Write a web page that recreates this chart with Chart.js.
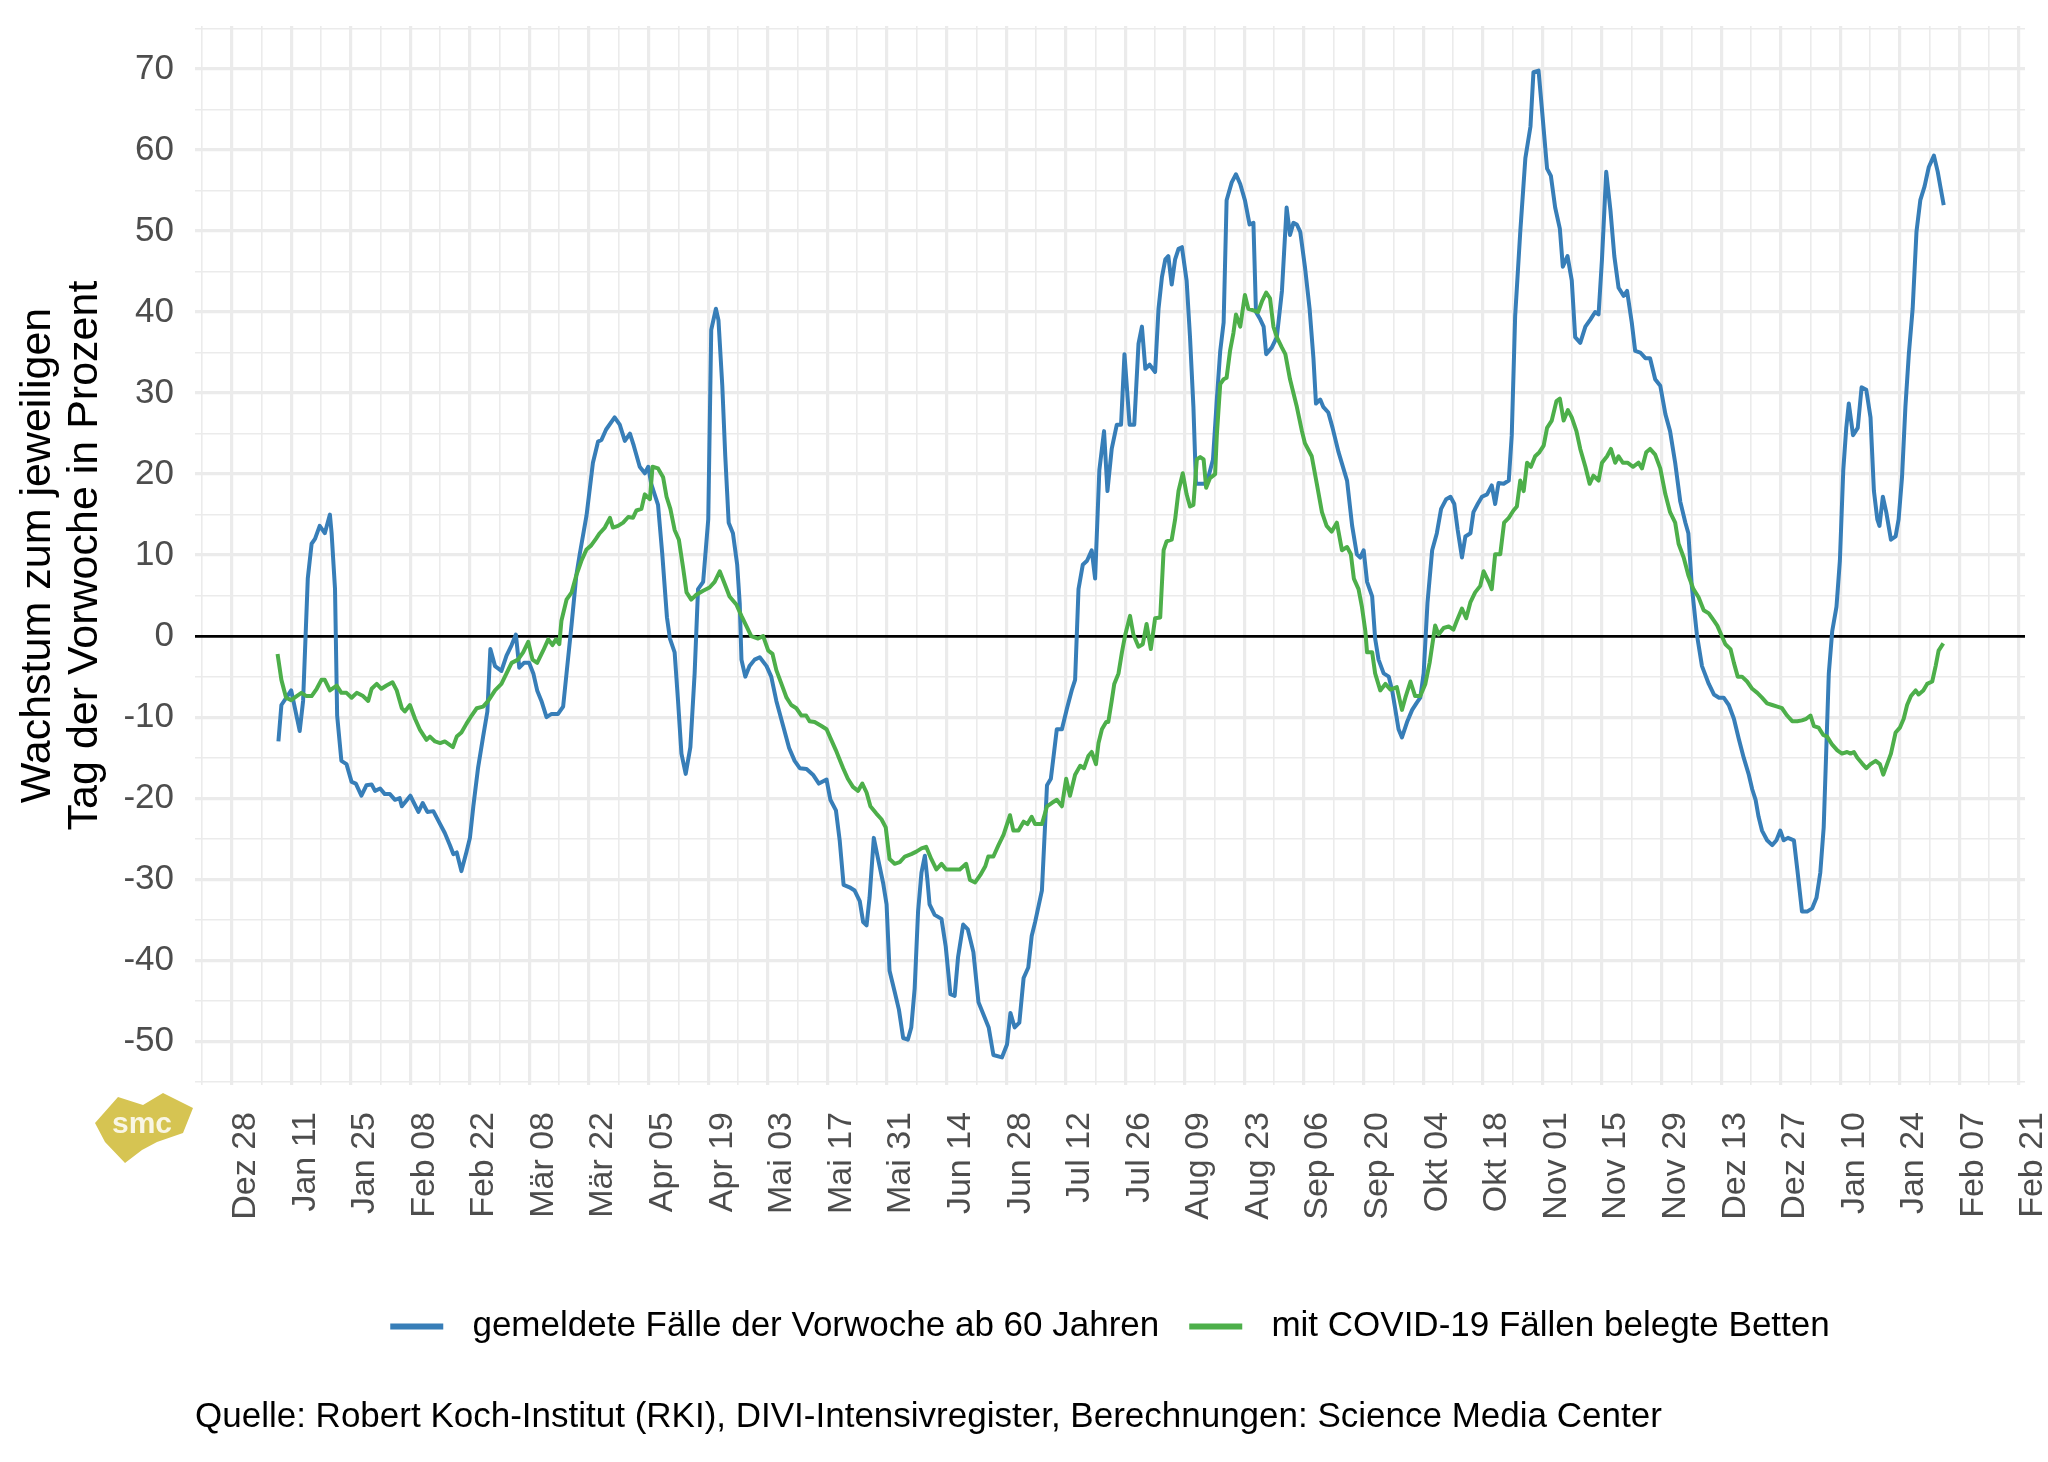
<!DOCTYPE html>
<html>
<head>
<meta charset="utf-8">
<title>Wachstum zum jeweiligen Tag der Vorwoche</title>
<script src="https://cdn.jsdelivr.net/npm/chart.js@4.4.1/dist/chart.umd.min.js"></script>
<style>
  html, body { margin: 0; padding: 0; background: #fff; }
  #wrap { position: relative; width: 2048px; height: 1462px; }
  #logo { position: absolute; left: 80px; top: 1070px; }
</style>
</head>
<body>
<div id="wrap">
  <canvas id="growthChart" width="2048" height="1462"></canvas>
  <svg id="logo" width="140" height="110" viewBox="0 0 140 110">
    <polygon points="15,53 38,27 63,35 83,23 113,38 103,63 77,72 62,80 45,93 25,72" fill="#d6c452"/>
    <text x="62" y="63" text-anchor="middle" font-family="Liberation Sans, Arial, sans-serif" font-weight="bold" font-size="30" fill="#fff" fill-opacity="0.85">smc</text>
  </svg>
</div>
<script>
// days counted from Mon 28 Dec 2020
const startDay = Date.UTC(2020, 11, 28);
const monthNames = ['Jan', 'Feb', 'Mär', 'Apr', 'Mai', 'Jun', 'Jul', 'Aug', 'Sep', 'Okt', 'Nov', 'Dez'];

const seriesNames = ['gemeldete Fälle der Vorwoche ab 60 Jahren', 'mit COVID-19 Fällen belegte Betten'];

// Fälle ab 60 Jahren (blue)
const casesDays = [
  11.0, 11.7, 14.0, 16.0, 16.8, 17.9, 18.8, 19.6, 20.7, 21.9,
  23.1, 23.5, 24.3, 24.8, 25.8, 27.0, 28.2, 29.2, 30.5, 31.7,
  32.9, 33.7, 34.9, 36.0, 37.2, 38.4, 39.5, 40.0, 42.0, 43.9,
  44.9, 46.0, 47.4, 48.6, 50.1, 51.3, 52.1, 52.9, 54.0, 55.2,
  56.0, 56.8, 57.9, 59.1, 60.1, 60.8, 61.9, 63.4, 64.6, 65.8,
  66.8, 67.6, 68.7, 69.9, 70.9, 71.8, 72.8, 74.0, 75.2, 76.7,
  77.9, 78.7, 79.9, 81.0, 81.8, 83.4, 84.9, 86.1, 86.9, 88.0,
  90.0, 91.2, 92.4, 93.6, 94.5, 95.9, 97.1, 97.9, 98.6, 100.2,
  101.2, 102.3, 103.0, 104.1, 104.9, 105.7, 106.7, 107.8, 108.8, 109.6,
  110.8, 112.0, 112.7, 113.8, 114.4, 115.3, 116.0, 116.8, 117.8, 118.8,
  119.4, 119.8, 120.7, 121.7, 122.9, 124.1, 125.7, 126.8, 128.0, 129.6,
  131.0, 132.3, 133.5, 135.1, 136.6, 138.0, 139.8, 140.7, 142.0, 142.9,
  143.8, 145.2, 146.4, 147.6, 148.4, 149.2, 149.9, 150.9, 151.9, 153.1,
  153.9, 154.6, 155.8, 156.8, 157.8, 158.9, 159.7, 160.5, 161.3, 162.1,
  162.9, 163.5, 164.0, 165.2, 166.8, 167.8, 168.9, 169.9, 170.7, 171.9,
  173.0, 174.3, 175.5, 177.9, 179.0, 181.0, 182.2, 183.0, 184.0, 185.1,
  186.1, 187.2, 188.0, 188.8, 190.4, 191.6, 192.5, 193.1, 193.9, 195.1,
  196.3, 197.4, 198.2, 199.0, 200.0, 201.0, 202.1, 202.9, 203.9, 205.0,
  205.8, 206.8, 208.0, 209.0, 209.8, 211.0, 212.1, 213.1, 213.9, 214.7,
  215.7, 217.0, 217.8, 218.6, 219.4, 220.1, 220.9, 221.7, 222.5, 223.3,
  224.4, 225.2, 226.0, 226.6, 227.6, 228.7, 229.5, 230.6, 231.5, 232.3,
  233.1, 233.8, 235.0, 236.0, 237.0, 238.1, 239.2, 240.1, 240.7, 241.7,
  242.5, 243.1, 244.4, 245.6, 246.8, 247.3, 247.9, 248.7, 249.5, 250.3,
  251.1, 252.2, 253.3, 254.2, 254.8, 255.8, 256.5, 257.7, 258.7, 260.1,
  262.1, 263.3, 264.4, 265.2, 266.0, 266.8, 268.0, 268.7, 269.5, 270.7,
  271.9, 272.7, 273.4, 274.2, 275.0, 276.2, 277.4, 278.5, 279.3, 280.1,
  281.0, 282.1, 283.2, 284.2, 285.4, 286.4, 287.3, 288.1, 289.1, 289.9,
  291.1, 291.8, 292.8, 293.8, 295.0, 296.1, 296.9, 297.7, 298.9, 300.1,
  300.8, 301.6, 302.8, 304.0, 305.2, 305.9, 307.1, 307.9, 309.1, 310.0,
  311.0, 312.1, 312.8, 313.9, 314.9, 315.7, 316.9, 318.1, 319.3, 320.4,
  321.2, 322.0, 323.0, 324.0, 324.9, 325.9, 327.1, 327.9, 329.0, 329.8,
  331.0, 332.2, 333.3, 334.5, 335.7, 336.9, 338.0, 339.2, 340.4, 341.6,
  342.3, 343.1, 344.3, 345.5, 347.1, 348.3, 349.5, 350.6, 351.8, 353.0,
  354.2, 355.3, 356.5, 357.3, 358.1, 358.8, 359.6, 360.8, 362.0, 363.0,
  363.9, 364.7, 365.7, 367.1, 367.9, 369.0, 370.2, 371.4, 372.4, 373.3,
  374.1, 374.7, 375.3, 376.1, 377.1, 377.9, 378.7, 379.4, 380.0, 381.0,
  382.1, 383.0, 384.1, 385.1, 385.9, 386.7, 387.2, 388.0, 388.8, 389.9,
  391.0, 391.7, 392.5, 393.3, 394.1, 395.0, 395.9, 396.8, 397.8, 398.8,
  400.0, 400.9, 401.5, 402.3
];
const casesValues = [
  -13, -8.5, -6.7, -11.7, -8, 7.1, 11.4, 12, 13.6, 12.7,
  15, 12.7, 5.8, -9.8, -15.4, -15.8, -18, -18.2, -19.7, -18.4,
  -18.3, -19.1, -18.8, -19.5, -19.5, -20.2, -20, -21, -19.7, -21.7,
  -20.6, -21.7, -21.6, -22.8, -24.3, -25.8, -26.9, -26.7, -29, -26.6,
  -24.9, -21, -16.3, -12.4, -9.3, -1.6, -3.7, -4.3, -2.4, -1.1,
  0.2, -3.9, -3.3, -3.3, -4.6, -6.7, -8, -10, -9.6, -9.6,
  -8.7, -4.6, 1.5, 7.5, 10.1, 14.9, 21.4, 24, 24.2, 25.5,
  27, 26.1, 24.1, 25, 23.5, 20.9, 20.1, 20.9, 18.8, 16.2,
  10.1, 2.3, -0.3, -2, -8, -14.5, -17, -13.7, -4.6, 5.8,
  6.7, 14.4, 37.8, 40.4, 39, 30.9, 22.2, 14, 12.7, 8.8,
  4, -2.9, -5, -3.7, -2.9, -2.6, -3.7, -5, -8, -11.1,
  -13.8, -15.4, -16.3, -16.4, -17.1, -18.2, -17.7, -20.2, -21.5, -25.3,
  -30.7, -31, -31.4, -32.7, -35.3, -35.7, -32.3, -24.9, -27.5, -30.5,
  -33.1, -41.3, -43.9, -46.1, -49.6, -49.8, -48.3, -43.5, -34, -29.2,
  -27.1, -30.1, -33.1, -34.4, -34.9, -38.3, -44.2, -44.4, -39.6, -35.6,
  -36.2, -39, -45.2, -48.3, -51.7, -52, -50.4, -46.5, -48.3, -47.7,
  -42.2, -40.9, -37, -35.3, -31.4, -18.4, -17.6, -15, -11.5, -11.5,
  -8.9, -6.7, -5.4, 5.8, 8.8, 9.3, 10.6, 7.1, 20.5, 25.3,
  17.9, 23.1, 26.1, 26.1, 34.8, 26.1, 26.1, 36.1, 38.2, 33,
  33.5, 32.6, 40.4, 44.3, 46.5, 46.9, 43.4, 46.5, 47.8, 48,
  43.9, 36.9, 28.3, 18.8, 18.8, 18.8, 19.6, 21.8, 29.2, 35.2,
  38.7, 53.8, 56, 57, 55.8, 53.8, 50.8, 51, 40, 39.1,
  38.2, 34.8, 35.6, 36.9, 42.6, 47.3, 52.9, 49.5, 51, 50.8,
  49.9, 45.6, 40.4, 34.3, 28.7, 29.2, 28.3, 27.6, 25.7, 22.7,
  19.2, 13.6, 10.1, 9.7, 10.6, 6.7, 4.9, -0.3, -2.9, -4.6,
  -5, -6.7, -8.9, -11.5, -12.5, -10.6, -9.1, -8.2, -7.6, -4.6,
  4.1, 10.6, 12.7, 15.7, 16.9, 17.2, 16.3, 13.1, 9.7, 12.3,
  12.7, 15.3, 16.3, 17.2, 17.5, 18.6, 16.3, 18.9, 18.8, 19.2,
  24.8, 39.5, 49.9, 59, 62.9, 69.6, 69.8, 65, 57.7, 56.8,
  52.9, 50.3, 45.6, 46.9, 43.9, 36.9, 36.2, 38.2, 39.1, 40,
  39.7, 46.5, 57.3, 52.5, 46.9, 43, 42, 42.6, 38.7, 35.2,
  35, 34.3, 34.3, 31.7, 30.9, 27.4, 25.3, 21.4, 16.6, 14,
  12.7, 6.2, 0.2, -3.7, -5.9, -7.2, -7.6, -7.6, -8.5, -10.2,
  -12.8, -15, -17.1, -18.9, -20.2, -22.3, -24, -25.2, -25.8, -25.2,
  -24, -25.2, -24.9, -25.2, -28.8, -34, -34, -33.6, -32.3, -29.2,
  -23.6, -14.1, -4.6, 0.6, 3.6, 9.3, 20.5, 25.7, 28.7, 24.8,
  25.7, 30.7, 30.4, 27, 17.9, 14.4, 13.6, 17.2, 15.3, 11.9,
  12.3, 14.4, 19.6, 28.3, 34.8, 40.4, 49.9, 53.8, 55.5, 57.9,
  59.3, 57.3, 55.5, 53.2
];

// belegte Betten (green)
const bedsDays = [
  10.8, 11.7, 12.8, 14.0, 15.3, 16.4, 17.6, 18.8, 20.0, 21.1,
  21.9, 23.1, 24.7, 25.8, 27.0, 28.2, 29.4, 30.9, 32.1, 32.9,
  34.1, 35.2, 36.4, 37.8, 38.8, 40.0, 40.7, 41.9, 43.1, 44.2,
  45.8, 46.6, 47.8, 49.0, 50.1, 52.0, 52.9, 54.0, 55.2, 56.4,
  57.6, 59.1, 60.3, 61.9, 63.4, 64.6, 65.8, 67.3, 68.5, 69.7,
  70.7, 71.8, 73.2, 74.4, 75.4, 76.2, 77.0, 77.5, 78.7, 79.9,
  81.0, 82.2, 83.4, 84.5, 85.6, 86.5, 87.7, 88.9, 89.6, 90.8,
  92.0, 93.2, 94.3, 95.1, 96.3, 97.1, 98.3, 98.9, 100.2, 101.4,
  102.2, 103.1, 104.1, 105.1, 106.1, 106.9, 108.0, 109.2, 110.8, 112.3,
  113.5, 114.7, 115.9, 117.0, 118.6, 119.8, 121.0, 122.1, 123.7, 124.9,
  126.1, 127.1, 128.0, 129.2, 130.4, 131.5, 132.7, 133.9, 135.0, 135.8,
  137.0, 138.6, 139.8, 140.9, 142.0, 142.7, 143.7, 144.8, 146.0, 147.2,
  148.2, 149.2, 150.1, 151.5, 152.7, 153.7, 154.6, 155.8, 157.0, 158.2,
  159.7, 160.9, 162.1, 163.2, 164.4, 165.6, 166.8, 167.9, 169.1, 171.1,
  172.6, 173.5, 174.7, 175.9, 177.1, 177.8, 179.0, 180.2, 181.4, 182.9,
  183.7, 184.9, 186.1, 187.0, 188.0, 188.8, 190.4, 191.6, 192.7, 193.9,
  195.1, 196.1, 197.0, 198.2, 199.4, 200.3, 201.3, 202.1, 203.1, 203.7,
  204.5, 205.5, 206.0, 206.8, 207.4, 208.4, 209.2, 210.0, 211.1, 211.9,
  213.1, 214.1, 215.0, 216.0, 217.0, 218.2, 219.0, 219.7, 220.9, 221.7,
  222.5, 223.5, 224.4, 225.2, 226.0, 226.8, 227.6, 228.4, 229.0, 229.9,
  231.1, 231.5, 232.3, 233.1, 233.8, 234.6, 235.4, 236.0, 237.0, 238.1,
  238.9, 240.1, 241.2, 242.1, 243.1, 244.0, 244.8, 245.6, 246.8, 247.6,
  248.7, 250.3, 251.5, 252.2, 253.8, 255.0, 256.2, 257.3, 258.5, 259.7,
  260.9, 262.1, 263.0, 263.7, 264.8, 265.6, 266.4, 266.8, 268.0, 268.7,
  269.9, 271.1, 272.3, 273.8, 275.0, 275.8, 277.0, 278.1, 279.3, 280.5,
  281.5, 282.8, 283.6, 284.8, 286.0, 287.1, 287.9, 289.1, 290.1, 291.1,
  292.2, 293.4, 294.2, 295.4, 296.1, 296.9, 298.1, 299.0, 300.1, 301.2,
  302.0, 302.8, 303.6, 304.4, 305.3, 306.3, 307.3, 308.3, 309.1, 310.2,
  311.3, 312.1, 313.0, 314.0, 314.9, 316.0, 316.9, 318.1, 319.1, 320.0,
  321.2, 322.0, 323.2, 324.1, 325.1, 325.9, 326.9, 328.0, 329.3, 330.6,
  331.4, 332.4, 333.3, 334.5, 335.7, 336.9, 338.0, 339.2, 340.0, 341.2,
  342.3, 343.5, 344.7, 345.9, 347.1, 348.3, 349.1, 350.0, 351.0, 352.2,
  353.0, 353.9, 354.9, 356.1, 357.3, 358.5, 359.6, 360.8, 362.0, 363.2,
  364.3, 365.5, 366.7, 367.9, 369.0, 370.0, 371.0, 371.8, 372.9, 374.0,
  374.9, 376.1, 377.3, 378.4, 379.6, 380.4, 381.2, 382.0, 383.1, 384.1,
  385.1, 386.3, 387.3, 388.1, 389.0, 389.9, 391.0, 392.0, 392.9, 393.7,
  394.6, 395.7, 396.4, 397.5, 398.4, 399.6, 400.4, 401.1, 402.2
];
const bedsValues = [
  -2.2, -5.4, -7.6, -7.9, -7.4, -7, -7.4, -7.4, -6.5, -5.4,
  -5.4, -6.7, -6.1, -7, -7, -7.6, -7, -7.4, -8, -6.5,
  -5.9, -6.5, -6.1, -5.7, -6.7, -8.9, -9.3, -8.5, -10.2, -11.5,
  -12.8, -12.4, -13, -13.2, -13, -13.7, -12.4, -11.9, -10.8, -9.8,
  -8.9, -8.7, -8, -6.7, -5.9, -4.6, -3.3, -2.9, -2, -0.7,
  -2.9, -3.3, -1.8, -0.4, -1.1, -0.4, -1, 1.9, 4.5, 5.4,
  7.5, 9.3, 10.7, 11.2, 12, 12.7, 13.4, 14.6, 13.4, 13.6,
  14, 14.7, 14.6, 15.5, 15.7, 17.5, 16.9, 20.9, 20.7, 19.6,
  17.2, 15.7, 13.1, 11.9, 8.4, 5.4, 4.5, 5.1, 5.6, 6,
  6.7, 8, 6.4, 4.9, 3.9, 2.5, 1.2, 0, -0.3, 0,
  -1.8, -2.2, -4.2, -5.9, -7.6, -8.5, -8.9, -9.8, -9.8, -10.5,
  -10.6, -11.1, -11.5, -12.8, -14.1, -15, -16.3, -17.6, -18.6, -19.1,
  -18.2, -19.3, -21, -21.9, -22.6, -23.6, -27.5, -28.1, -27.9, -27.2,
  -26.9, -26.6, -26.2, -26, -27.5, -28.8, -28.1, -28.8, -28.8, -28.8,
  -28.1, -30.1, -30.4, -29.5, -28.4, -27.2, -27.2, -25.8, -24.5, -22.1,
  -24, -24, -22.9, -23.2, -22.3, -23.2, -23.2, -21, -20.6, -20.2,
  -21, -17.6, -19.7, -17.1, -16, -16.3, -14.8, -14.3, -15.8, -13.2,
  -11.5, -10.6, -10.6, -8, -5.9, -4.6, -2, 0.2, 2.5, 0.2,
  -1.3, -1, 1.5, -1.6, 2.2, 2.3, 10.6, 11.7, 11.9, 14.4,
  17.9, 20.1, 17.5, 16, 16.2, 21.8, 22.1, 21.8, 18.3, 19.5,
  20, 24.8, 31.1, 31.7, 31.9, 35.2, 37.4, 39.7, 38.2, 42.1,
  40.4, 40.2, 40, 41.3, 42.4, 41.7, 38.2, 36.9, 35.6, 34.8,
  31.7, 28.3, 25.3, 23.8, 22.2, 18.8, 15.3, 13.6, 12.9, 14,
  10.6, 11, 10.1, 7.1, 5.8, 3.6, 0.6, -2, -2, -4.6,
  -6.7, -5.9, -6.6, -6.3, -9.1, -7.6, -5.6, -7.4, -7.4, -5.9,
  -3.3, 1.3, 0.2, 1, 1.2, 0.8, 1.9, 3.4, 2.2, 4.2,
  5.4, 6.2, 8, 6.7, 5.8, 10.1, 10.1, 14, 14.6, 15.5,
  16, 19.2, 17.9, 21.4, 20.9, 22.2, 22.7, 23.5, 25.7, 26.6,
  29, 29.3, 26.6, 27.9, 27, 25.3, 23.1, 20.9, 18.8, 19.8,
  19.2, 21.4, 22.2, 23.1, 21.4, 22.2, 21.4, 21.4, 20.9, 21.4,
  20.7, 22.7, 23.1, 22.4, 20.7, 17.5, 15.3, 14, 11.4, 9.7,
  7.5, 5.8, 4.8, 3.2, 2.8, 1.9, 1.3, 0.2, -1, -1.6,
  -3.3, -5, -5, -5.6, -6.5, -7, -7.6, -8.3, -8.5, -8.7,
  -8.9, -9.8, -10.5, -10.5, -10.4, -10.2, -9.8, -11.1, -11.3, -12.2,
  -12.4, -13.4, -14.1, -14.5, -14.3, -14.5, -14.3, -15, -15.7, -16.3,
  -15.8, -15.4, -15.8, -17.1, -15.8, -14.5, -11.9, -11.3, -10.2, -8.5,
  -7.4, -6.7, -7.2, -6.7, -5.9, -5.6, -3.7, -1.8, -0.9
];

const FONT = "'Liberation Sans', Arial, Helvetica, sans-serif";
Chart.defaults.font.family = FONT;

function dayLabel(d) {
  const dt = new Date(startDay + Math.round(d) * 86400000);
  const day = String(dt.getUTCDate()).padStart(2, '0');
  return monthNames[dt.getUTCMonth()] + ' ' + day;
}

function toPoints(days, values) {
  return days.map((d, i) => ({ x: d, y: values[i] }));
}

const ctx = document.getElementById('growthChart').getContext('2d');
new Chart(ctx, {
  type: 'line',
  data: {
    datasets: [
      {
        label: seriesNames[0],
        data: toPoints(casesDays, casesValues),
        borderColor: '#377eb8',
        backgroundColor: '#377eb8',
        order: 1
      },
      {
        label: seriesNames[1],
        data: toPoints(bedsDays, bedsValues),
        borderColor: '#4daf4a',
        backgroundColor: '#4daf4a',
        order: 0
      }
    ]
  },
  options: {
    responsive: false,
    animation: false,
    devicePixelRatio: 1,
    layout: { padding: { top: 26, right: 23, left: 0, bottom: 0 } },
    elements: {
      line: { borderWidth: 4, tension: 0, borderJoinStyle: 'round' },
      point: { radius: 0 }
    },
    scales: {
      x: {
        type: 'linear',
        min: -8.6,
        max: 421.4,
        afterFit: s => {
          s.height = 194;
          s.paddingLeft = 0;
          s.paddingRight = 0;
        },
        border: { display: false },
        grid: {
          color: '#ebebeb',
          drawTicks: false,
          lineWidth: c => (c.tick && Math.round(c.tick.value) % 14 === 0) ? 3.2 : 1.6
        },
        ticks: {
          stepSize: 7,
          includeBounds: false,
          autoSkip: false,
          minRotation: 90,
          maxRotation: 90,
          padding: 27,
          labelOffset: 14,
          color: '#4d4d4d',
          font: { size: 34 },
          callback: v => Math.round(v) % 14 === 0 ? dayLabel(v) : ''
        }
      },
      y: {
        min: -55.4,
        max: 75.3,
        afterFit: s => {
          s.width = 195;
          s.paddingTop = 0;
          s.paddingBottom = 0;
        },
        border: { display: false },
        grid: {
          drawTicks: false,
          color: c => (c.tick && c.tick.value === 0) ? '#000000' : '#ebebeb',
          lineWidth: c => {
            if (!c.tick) return 1.6;
            if (c.tick.value === 0) return 2.8;
            return c.tick.value % 10 === 0 ? 3.2 : 1.6;
          }
        },
        ticks: {
          stepSize: 5,
          includeBounds: false,
          autoSkip: false,
          padding: 21,
          color: '#4d4d4d',
          font: { size: 35 },
          callback: v => v % 10 === 0 ? String(v) : ''
        },
        title: {
          display: true,
          text: ['Wachstum zum jeweiligen', 'Tag der Vorwoche in Prozent'],
          color: '#000',
          font: { size: 43, lineHeight: 1.09 },
          padding: { top: 15, bottom: 0 }
        }
      }
    },
    plugins: {
      tooltip: { enabled: false },
      legend: {
        position: 'bottom',
        fullSize: false,
        labels: {
          boxWidth: 53,
          boxHeight: 6,
          padding: 30,
          color: '#000',
          font: { size: 35 },
          sort: (a, b) => a.datasetIndex - b.datasetIndex,
          generateLabels: chart => Chart.defaults.plugins.legend.labels.generateLabels(chart)
            .map(item => Object.assign(item, { text: '\u2004' + item.text, lineWidth: 0 }))
        }
      },
      subtitle: {
        display: true,
        position: 'bottom',
        align: 'start',
        fullSize: false,
        text: 'Quelle: Robert Koch-Institut (RKI), DIVI-Intensivregister, Berechnungen: Science Media Center',
        color: '#000',
        font: { size: 35, weight: 'normal' },
        padding: { top: 42, bottom: 24 }
      }
    }
  }
});
</script>
</body>
</html>
